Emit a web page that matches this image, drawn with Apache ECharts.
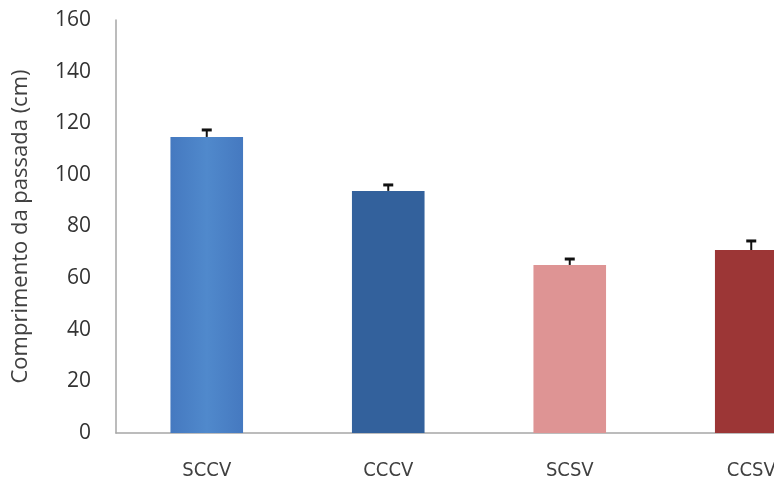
<!DOCTYPE html>
<html>
<head>
<meta charset="utf-8">
<script src="https://cdn.jsdelivr.net/npm/echarts@6/dist/echarts.min.js"></script>
<style>
  html, body { margin: 0; padding: 0; background: #fff; }
  #chart { width: 774px; height: 488px; }
</style>
</head>
<body>
<div id="chart"></div>
<script>
const categories = ['SCCV', 'CCCV', 'SCSV', 'CCSV']
const means = [114.7, 93.8, 65.1, 70.9]
const errors = [2.7, 2.3, 2.3, 3.5]
const barColors = ['#4a80c6', '#33619c', '#de9494', '#9c3636']
const yTicks = { min: 0, max: 160, interval: 20 }

const chart = echarts.init(document.getElementById('chart'))

const barData = means.map((v, i) => ({
  value: v,
  itemStyle: {
    color: i === 0
      ? new echarts.graphic.LinearGradient(0, 0, 1, 0, [
        { offset: 0, color: '#4579c0' },
        { offset: 0.5, color: '#5089cc' },
        { offset: 1, color: '#4579c0' }
      ])
      : barColors[i]
  }
}))

const option = {
  animation: false,
  grid: { left: 116, top: 20, width: 726, bottom: 55, outerBoundsMode: 'none', containLabel: false },
  xAxis: {
    type: 'category',
    data: categories,
    axisLine: { lineStyle: { color: '#a6a6a6', width: 1.5 } },
    axisTick: { show: false },
    axisLabel: {
      margin: 28,
      fontFamily: 'Liberation Sans Narrow, DejaVu Sans Condensed, sans-serif',
      fontSize: 20,
      color: '#404040'
    }
  },
  yAxis: {
    type: 'value',
    min: yTicks.min,
    max: yTicks.max,
    interval: yTicks.interval,
    name: 'Comprimento da passada (cm)',
    nameLocation: 'middle',
    nameGap: 84,
    nameTextStyle: { fontFamily: 'Open Sans, sans-serif', fontSize: 22, color: '#404040' },
    axisLine: { show: true, lineStyle: { color: '#a6a6a6', width: 1.5 } },
    axisTick: { show: false },
    splitLine: { show: false },
    axisLabel: {
      margin: 25,
      fontFamily: 'Open Sans, sans-serif',
      fontSize: 21,
      color: '#333'
    }
  },
  series: [
    {
      type: 'bar',
      data: barData,
      barWidth: '40%'
    },
    {
      type: 'custom',
      data: means.map((v, i) => [i, v, v + errors[i]]),
      z: 10,
      renderItem: function (params, api) {
        const base = api.coord([api.value(0), api.value(1)])
        const top = api.coord([api.value(0), api.value(2)])
        const half = 5
        return {
          type: 'group',
          children: [
            { type: 'line', shape: { x1: base[0], y1: base[1], x2: top[0], y2: top[1] }, style: { stroke: '#111', lineWidth: 2 } },
            { type: 'line', shape: { x1: top[0] - half, y1: top[1], x2: top[0] + half, y2: top[1] }, style: { stroke: '#111', lineWidth: 3 } }
          ]
        }
      }
    }
  ]
}

chart.setOption(option)
</script>
</body>
</html>
